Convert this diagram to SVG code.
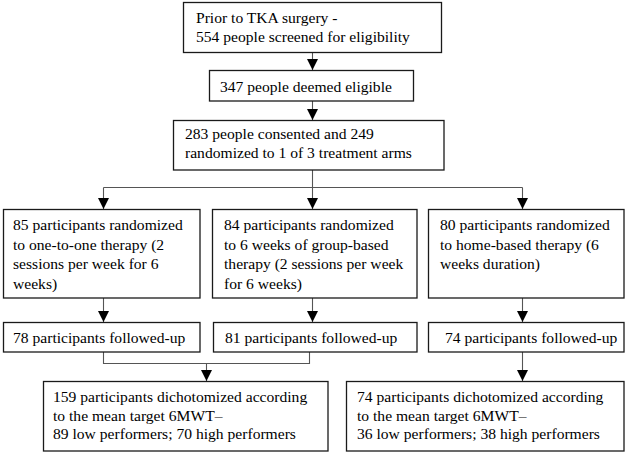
<svg xmlns="http://www.w3.org/2000/svg" width="628" height="453" viewBox="0 0 628 453">
<style>
.box{fill:#fff;stroke:#1a1a1a;stroke-width:1.3}
.t{font-family:'Liberation Serif','Times New Roman','DejaVu Serif',serif;font-size:15.6px;fill:#000}
.c{fill:none;stroke:#555;stroke-width:1.1}
</style>
<defs>
<marker id="ah" markerUnits="userSpaceOnUse" markerWidth="11" markerHeight="12" refX="11" refY="5.5" orient="auto" viewBox="0 0 11 11">
<path d="M0,0 L11,5.5 L0,11 z" fill="#000"/>
</marker>
</defs>
<rect width="628" height="453" fill="#fff"/>
<g id="connectors">
<line class="c" x1="312.5" y1="52" x2="312.5" y2="70" marker-end="url(#ah)"/>
<line class="c" x1="312.5" y1="101" x2="312.5" y2="120" marker-end="url(#ah)"/>
<line class="c" x1="312.5" y1="170" x2="312.5" y2="209" marker-end="url(#ah)"/>
<line class="c" x1="103.5" y1="187.5" x2="522.5" y2="187.5"/>
<line class="c" x1="103.5" y1="187.5" x2="103.5" y2="209" marker-end="url(#ah)"/>
<line class="c" x1="522.5" y1="187.5" x2="522.5" y2="209" marker-end="url(#ah)"/>
<line class="c" x1="103.5" y1="298" x2="103.5" y2="322" marker-end="url(#ah)"/>
<line class="c" x1="312.5" y1="298" x2="312.5" y2="322" marker-end="url(#ah)"/>
<line class="c" x1="522.5" y1="298" x2="522.5" y2="322" marker-end="url(#ah)"/>
<polyline class="c" points="103.5,352 103.5,363.5 309.5,363.5 309.5,352"/>
<line class="c" x1="206.5" y1="363.5" x2="206.5" y2="381" marker-end="url(#ah)"/>
<line class="c" x1="522.5" y1="352" x2="522.5" y2="381" marker-end="url(#ah)"/>
</g>
<g font-family="Liberation Serif, Times New Roman, DejaVu Serif, serif">
<g id="n1"><rect class="box" x="183.5" y="2.5" width="258" height="50"/>
<text class="t" x="196" y="22.5">Prior to TKA surgery -</text>
<text class="t" x="196" y="42">554 people screened for eligibility</text></g>
<g id="n2"><rect class="box" x="209.5" y="70.5" width="204" height="30.5"/>
<text class="t" x="220" y="92">347 people deemed eligible</text></g>
<g id="n3"><rect class="box" x="173.5" y="120.5" width="270.5" height="49.5"/>
<text class="t" x="185" y="138.5">283 people consented and 249</text>
<text class="t" x="185" y="158">randomized to 1 of 3 treatment arms</text></g>
<g id="n4"><rect class="box" x="3.5" y="209.5" width="196.5" height="88.5"/>
<text class="t" x="13" y="230">85 participants randomized</text>
<text class="t" x="13" y="249.5">to one-to-one therapy (2</text>
<text class="t" x="13" y="269">sessions per week for 6</text>
<text class="t" x="13" y="288.5">weeks)</text></g>
<g id="n5"><rect class="box" x="212.5" y="209.5" width="204.5" height="88.5"/>
<text class="t" x="224" y="230">84 participants randomized</text>
<text class="t" x="224" y="249.5">to 6 weeks of group-based</text>
<text class="t" x="224" y="269">therapy (2 sessions per week</text>
<text class="t" x="224" y="288.5">for 6 weeks)</text></g>
<g id="n6"><rect class="box" x="428.5" y="209.5" width="195.5" height="88.5"/>
<text class="t" x="440" y="230">80 participants randomized</text>
<text class="t" x="440" y="249.5">to home-based therapy (6</text>
<text class="t" x="440" y="269">weeks duration)</text></g>
<g id="n7"><rect class="box" x="3.5" y="322.5" width="196.5" height="29.5"/>
<text class="t" x="13" y="343">78 participants followed-up</text></g>
<g id="n8"><rect class="box" x="213.5" y="322.5" width="203.5" height="29.5"/>
<text class="t" x="225" y="343">81 participants followed-up</text></g>
<g id="n9"><rect class="box" x="428.5" y="322.5" width="195.5" height="29.5"/>
<text class="t" x="445" y="343">74 participants followed-up</text></g>
<g id="n10"><rect class="box" x="43.5" y="381.5" width="284.5" height="69.5"/>
<text class="t" x="53" y="402">159 participants dichotomized according</text>
<text class="t" x="53" y="420.5">to the mean target 6MWT–</text>
<text class="t" x="53" y="439">89 low performers; 70 high performers</text></g>
<g id="n11"><rect class="box" x="346.5" y="381.5" width="277.5" height="69.5"/>
<text class="t" x="357" y="402">74 participants dichotomized according</text>
<text class="t" x="357" y="420.5">to the mean target 6MWT–</text>
<text class="t" x="357" y="439">36 low performers; 38 high performers</text></g>
</g>
</svg>
